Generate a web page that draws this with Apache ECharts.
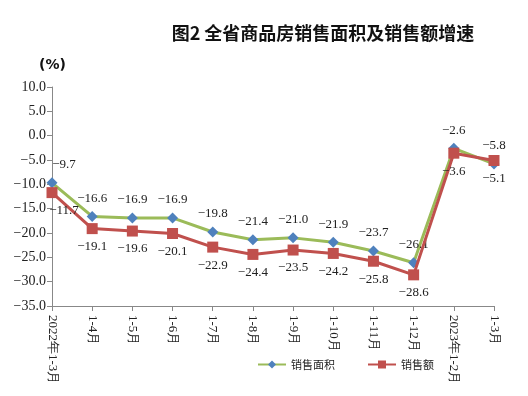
<!DOCTYPE html>
<html>
<head>
<meta charset="utf-8">
<script src="https://cdn.jsdelivr.net/npm/echarts@6/dist/echarts.min.js"></script>
<style>
html,body{margin:0;padding:0;background:#fff;}
#main{width:528px;height:396px;}
</style>
</head>
<body>
<div id="main"></div>
<script>
// 数据
var categories = ['2022年1-3月','1-4月','1-5月','1-6月','1-7月','1-8月','1-9月','1-10月','1-11月','1-12月','2023年1-2月','1-3月'];
var areaGrowth = [-9.7,-16.6,-16.9,-16.9,-19.8,-21.4,-21.0,-21.9,-23.7,-26.1,-2.6,-5.8];
var amountGrowth = [-11.7,-19.1,-19.6,-20.1,-22.9,-24.4,-23.5,-24.2,-25.8,-28.6,-3.6,-5.1];

var serif = '"Liberation Serif","DejaVu Serif",serif';

function fmt(v) {
    return Number(v).toFixed(1).replace('-', '\u2212');
}

// 第一个点的标签往右挪一点, 跟原图一样
function withFirstOffset(arr) {
    return arr.map(function (v, i) {
        if (i === 0) {
            return {value: v, label: {offset: [12, 0]}};
        }
        return v;
    });
}

var myChart = echarts.init(document.getElementById('main'));
myChart.setOption({
    animation: false,
    title: {
        text: '图2 全省商品房销售面积及销售额增速',
        left: 318,
        top: 19,
        textAlign: 'center',
        textStyle: {fontFamily: '"Noto Sans CJK SC"', fontSize: 18, fontWeight: 'bold', color: '#111'}
    },
    graphic: [{
        type: 'text',
        left: 39,
        top: 58,
        style: {text: '(%)', font: 'bold 14px "DejaVu Sans"', fill: '#111'}
    }],
    legend: {
        left: 252,
        top: 354,
        itemWidth: 28,
        itemHeight: 10,
        itemGap: 32,
        textStyle: {fontFamily: '"Noto Sans CJK SC"', fontSize: 11, color: '#222'},
        data: ['销售面积', '销售额']
    },
    grid: {left: 52, right: 34, top: 87, bottom: 90, containLabel: false},
    xAxis: {
        type: 'category',
        boundaryGap: false,
        data: categories,
        axisLine: {onZero: false, lineStyle: {color: '#888'}},
        axisTick: {show: true, length: 5, alignWithLabel: true, lineStyle: {color: '#888'}},
        axisLabel: {
            interval: 0,
            rotate: -90,
            margin: 9,
            fontFamily: serif,
            fontSize: 13,
            color: '#222'
        }
    },
    yAxis: {
        type: 'value',
        min: -35,
        max: 10,
        interval: 5,
        axisLine: {show: true, lineStyle: {color: '#888'}},
        axisTick: {show: true, length: 5, lineStyle: {color: '#888'}},
        splitLine: {show: false},
        axisLabel: {
            margin: 6,
            fontFamily: serif,
            fontSize: 14,
            color: '#222',
            formatter: fmt
        }
    },
    series: [{
        name: '销售面积',
        type: 'line',
        data: withFirstOffset(areaGrowth),
        symbol: 'diamond',
        symbolSize: 11,
        lineStyle: {color: '#9BBB59', width: 3},
        itemStyle: {color: '#4F81BD'},
        label: {
            show: true,
            position: 'top',
            distance: 6,
            fontFamily: serif,
            fontSize: 13,
            color: '#222',
            formatter: function (p) { return fmt(p.value); }
        },
        z: 3
    }, {
        name: '销售额',
        type: 'line',
        data: withFirstOffset(amountGrowth),
        symbol: 'rect',
        symbolSize: 11,
        lineStyle: {color: '#C0504D', width: 3},
        itemStyle: {color: '#C0504D'},
        label: {
            show: true,
            position: 'bottom',
            distance: 6,
            fontFamily: serif,
            fontSize: 13,
            color: '#222',
            formatter: function (p) { return fmt(p.value); }
        },
        z: 4
    }]
});
</script>
</body>
</html>
